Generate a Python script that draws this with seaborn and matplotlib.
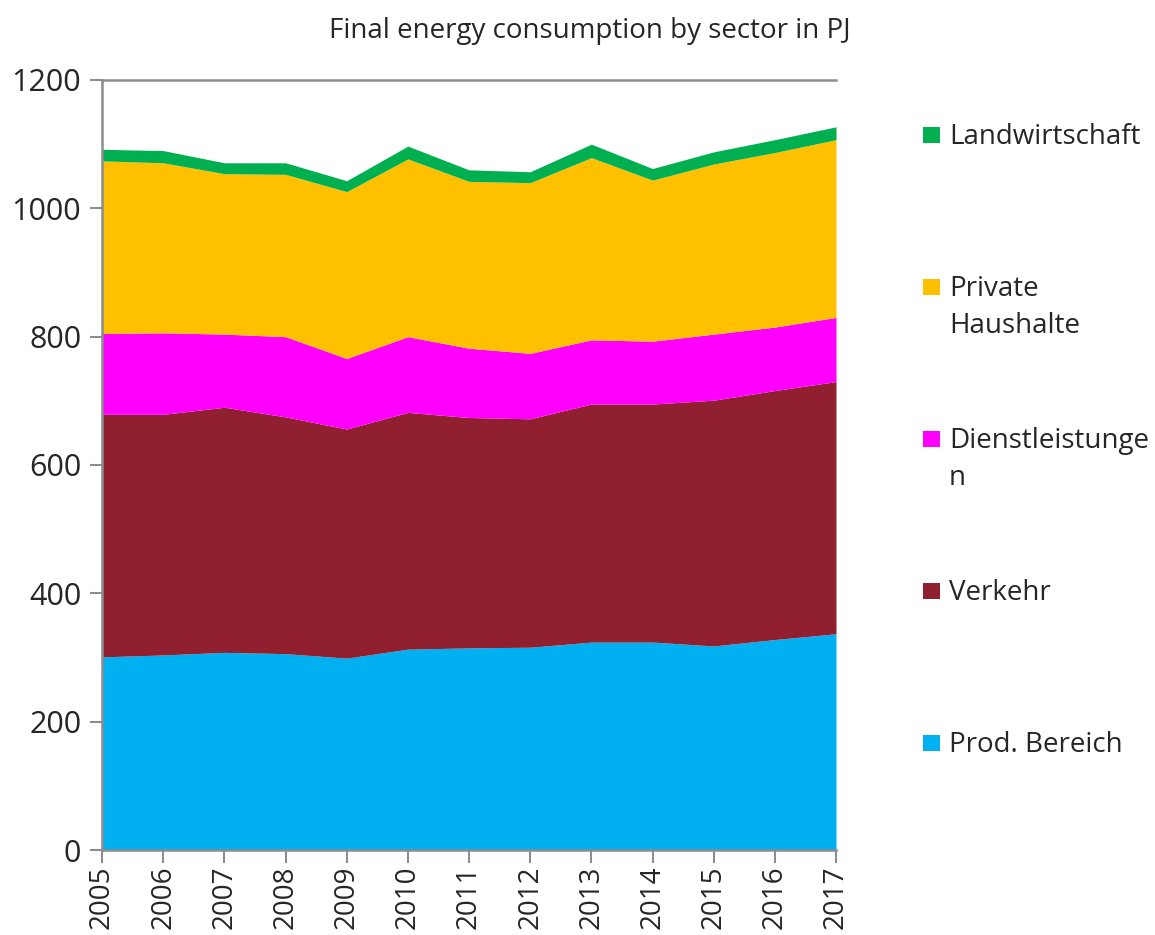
import numpy as np
import pandas as pd
import matplotlib
matplotlib.use('Agg')
import matplotlib.pyplot as plt
import seaborn as sns
from matplotlib.patches import Rectangle

# Setting up the template
sns.set_style('white')
plt.rcParams['font.family'] = ['Open Sans', 'DejaVu Sans']

# Values (PJ)
years = [2005, 2006, 2007, 2008, 2009, 2010, 2011, 2012, 2013, 2014, 2015, 2016, 2017]
prod_bereich = [301, 304, 308, 306, 299, 313, 315, 316, 324, 324, 318, 328, 337]
verkehr = [378, 375, 382, 369, 357, 369, 359, 356, 371, 371, 383, 388, 393]
dienstleistungen = [126, 127, 114, 125, 110, 118, 108, 102, 100, 98, 103, 99, 100]
private_haushalte = [269, 265, 250, 253, 260, 277, 260, 266, 284, 251, 265, 272, 277]
landwirtschaft = [18, 19, 17, 18, 17, 20, 18, 17, 21, 18, 19, 20, 20]

labels = ['Prod. Bereich', 'Verkehr', 'Dienstleistunge\nn', 'Private\nHaushalte', 'Landwirtschaft']
colors = ['#00B0F0', '#901F2F', '#FF00FF', '#FFC000', '#00B050']

data = pd.DataFrame({
    'Year': years,
    labels[0]: prod_bereich,
    labels[1]: verkehr,
    labels[2]: dienstleistungen,
    labels[3]: private_haushalte,
    labels[4]: landwirtschaft,
})

W, H = 1155, 935
fig = plt.figure(figsize=(W / 100, H / 100), dpi=100)
ax = fig.add_axes([102 / W, 1 - 850 / H, (836 - 102) / W, (850 - 80) / H])

ax.stackplot(data['Year'], *[data[l] for l in labels], colors=colors, linewidth=0)

ax.set_xlim(2005, 2017)
ax.set_ylim(0, 1200)
ax.set_xticks(years)
ax.set_xticklabels([str(y) for y in years], rotation=90, fontsize=20)
ax.set_yticks(range(0, 1201, 200))
ax.tick_params(axis='y', labelsize=22, length=9, width=1.5, color='#8c8c8c', pad=6)
ax.tick_params(axis='x', length=9, width=1.5, color='#8c8c8c', pad=2)
for side in ['left', 'bottom', 'top']:
    ax.spines[side].set_color('#8c8c8c')
    ax.spines[side].set_linewidth(1.8)
ax.spines['right'].set_visible(False)
ax.tick_params(left=True, bottom=True)

fig.text(590 / W, 1 - 31 / H, 'Final energy consumption by sector in PJ',
         ha='center', va='center', fontsize=20)

# legend laid out like the original: equal steps, text hanging from the first line
for i, (lab, col) in enumerate(zip(labels[::-1], colors[::-1])):
    yc = 135 + i * 152
    fig.patches.append(Rectangle((923 / W, 1 - (yc + 8) / H), 17 / W, 16 / H,
                                 transform=fig.transFigure, facecolor=col, edgecolor='none'))
    fig.text(949 / W, 1 - (yc - 12) / H, lab, ha='left', va='top',
             fontsize=20, linespacing=1.45)

plt.savefig('out.png', dpi=100)
